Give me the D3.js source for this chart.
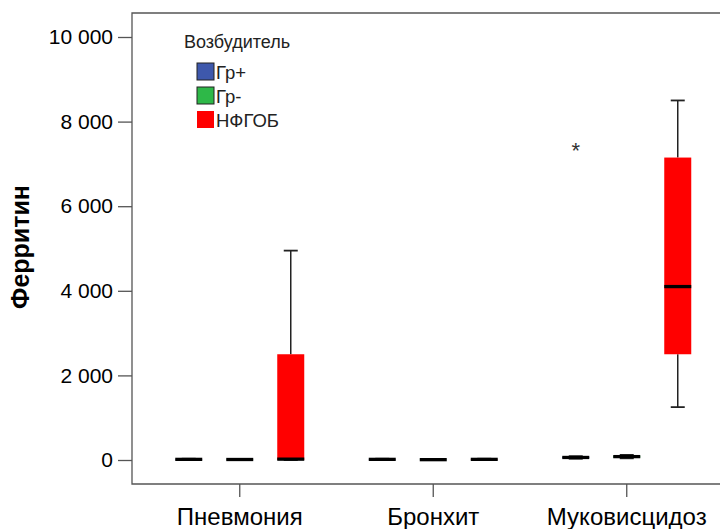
<!DOCTYPE html>
<html>
<head>
<meta charset="utf-8">
<script src="https://cdn.jsdelivr.net/npm/d3@7"></script>
<style>
  body { margin: 0; background: #fff; }
  svg { display: block; font-family: "Liberation Sans", Arial, sans-serif; }
</style>
</head>
<body>
<svg width="720" height="529"></svg>
<script>
// categories and groups
let categories = ["Пневмония", "Бронхит", "Муковисцидоз"];
let groups = ["Гр+", "Гр-", "НФГОБ"];
let groupColors = ["#3E58AC", "#2EB848", "#FF0000"];
let yTicks = [0, 2000, 4000, 6000, 8000, 10000];

// five-number summaries [min, q1, median, q3, max] per category, per group
let pneumonia = [[5, 10, 15, 22, 30], [3, 8, 12, 18, 25], [0, 0, 20, 2500, 4950]];
let bronchitis = [[5, 10, 15, 22, 30], [2, 5, 8, 12, 18], [5, 10, 15, 22, 30]];
let mucoviscidosis = [[30, 45, 60, 75, 90], [40, 55, 80, 100, 120], [1250, 2500, 4100, 7150, 8500]];
// extreme values: [category, group, value]
let extremes = [["Муковисцидоз", "Гр+", 7400]];

let stats = [pneumonia, bronchitis, mucoviscidosis];

let svg = d3.select("svg");
let margin = {top: 13, left: 132, bottom: 484};

let x = d3.scaleBand().domain(categories).range([143, 723.5]);
let xSub = d3.scaleBand().domain(groups).range([-76.5, 76.5]);
let y = d3.scaleLinear().domain([0, 10000]).range([460, 37]);
let boxW = 27;
let capW = 14;

// frame
svg.append("path")
    .attr("d", "M760," + margin.top + "H" + margin.left + "V" + margin.bottom + "H760")
    .attr("fill", "none")
    .attr("stroke", "#555")
    .attr("stroke-width", 1.3);

// y axis
let yAxis = svg.append("g")
    .attr("transform", "translate(" + margin.left + ",0)")
    .call(d3.axisLeft(y).tickValues(yTicks).tickSize(14).tickPadding(5)
        .tickFormat(d => d3.format(",")(d).replace(/,/g, " ")));
yAxis.select(".domain").remove();
yAxis.selectAll("line").attr("stroke", "#555").attr("stroke-width", 1.3);
yAxis.selectAll("text").attr("font-size", "21px").attr("fill", "#000")
    .attr("font-family", "Liberation Sans, Arial, sans-serif");

// x axis
let xAxis = svg.append("g")
    .attr("transform", "translate(0," + margin.bottom + ")")
    .call(d3.axisBottom(x).tickSize(13).tickPadding(11));
xAxis.select(".domain").remove();
xAxis.selectAll("line").attr("stroke", "#555").attr("stroke-width", 1.3);
xAxis.selectAll("text").attr("font-size", "24px").attr("fill", "#000")
    .attr("font-family", "Liberation Sans, Arial, sans-serif");

// y title
svg.append("text")
    .attr("transform", "translate(29,247) rotate(-90)")
    .attr("text-anchor", "middle")
    .attr("font-size", "25px")
    .attr("font-weight", "bold")
    .text("Ферритин");

// boxes
let plot = svg.append("g");
categories.forEach((c, ci) => {
    groups.forEach((g, gi) => {
        let s = stats[ci][gi];
        let cx = x(c) + x.bandwidth() / 2 + xSub(g) + xSub.bandwidth() / 2;
        let bg = plot.append("g");
        // whiskers
        bg.append("line").attr("x1", cx).attr("x2", cx).attr("y1", y(s[0])).attr("y2", y(s[1]))
            .attr("stroke", "#222").attr("stroke-width", 1.5);
        bg.append("line").attr("x1", cx).attr("x2", cx).attr("y1", y(s[3])).attr("y2", y(s[4]))
            .attr("stroke", "#222").attr("stroke-width", 1.5);
        [s[0], s[4]].forEach(v => {
            bg.append("line").attr("x1", cx - capW / 2).attr("x2", cx + capW / 2)
                .attr("y1", y(v)).attr("y2", y(v))
                .attr("stroke", "#222").attr("stroke-width", 1.8);
        });
        // box
        bg.append("rect")
            .attr("x", cx - boxW / 2)
            .attr("y", y(s[3]))
            .attr("width", boxW)
            .attr("height", Math.max(0, y(s[1]) - y(s[3])))
            .attr("fill", groupColors[gi]);
        // median
        bg.append("line").attr("x1", cx - boxW / 2).attr("x2", cx + boxW / 2)
            .attr("y1", y(s[2])).attr("y2", y(s[2]))
            .attr("stroke", "#000").attr("stroke-width", 3.3);
    });
});

// extreme values
extremes.forEach(e => {
    let cx = x(e[0]) + x.bandwidth() / 2 + xSub(e[1]) + xSub.bandwidth() / 2;
    plot.append("text")
        .attr("x", cx)
        .attr("y", y(e[2]) + 11)
        .attr("text-anchor", "middle")
        .attr("font-size", "22px")
        .attr("fill", "#333")
        .text("*");
});

// legend
let legend = svg.append("g");
legend.append("text")
    .attr("x", 184)
    .attr("y", 48)
    .attr("font-size", "18px")
    .attr("fill", "#222")
    .text("Возбудитель");
groups.forEach((g, i) => {
    let ly = 63 + i * 24;
    legend.append("rect")
        .attr("x", 197)
        .attr("y", ly)
        .attr("width", 17)
        .attr("height", 17)
        .attr("fill", groupColors[i])
        .attr("stroke", i < 2 ? "#222" : "none")
        .attr("stroke-width", 1);
    legend.append("text")
        .attr("x", 216)
        .attr("y", ly + 16)
        .attr("font-size", "18.5px")
        .attr("fill", "#222")
        .text(g);
});
</script>
</body>
</html>
